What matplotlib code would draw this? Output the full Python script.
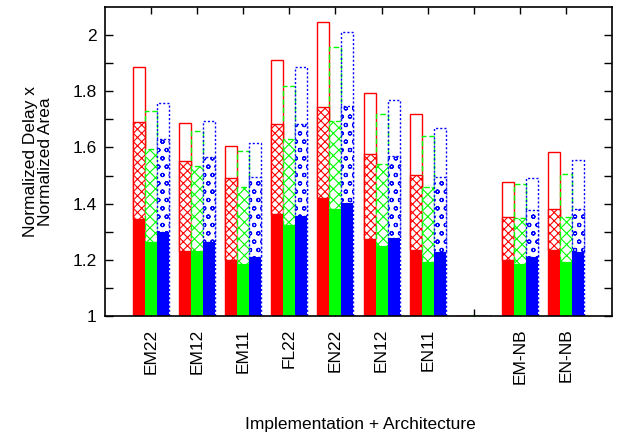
import matplotlib
matplotlib.use("Agg")
import matplotlib.pyplot as plt
import numpy as np

# Implementation + architecture groups (blank slot separates the NB variants)
groups = ["EM22", "EM12", "EM11", "FL22", "EN22", "EN12", "EN11", "", "EM-NB", "EN-NB"]

# Each bar is a stack: solid base, hatched middle, open top (cumulative levels)
red_base  = [1.346, 1.232, 1.199, 1.362, 1.421, 1.275, 1.234, 1.0, 1.199, 1.235]
red_mid   = [1.690, 1.552, 1.491, 1.682, 1.744, 1.575, 1.501, 1.0, 1.352, 1.381]
red_top   = [1.885, 1.686, 1.606, 1.911, 2.046, 1.793, 1.719, 1.0, 1.478, 1.585]

green_base = [1.262, 1.230, 1.186, 1.324, 1.382, 1.250, 1.192, 1.0, 1.185, 1.193]
green_mid  = [1.594, 1.534, 1.459, 1.630, 1.693, 1.541, 1.458, 1.0, 1.348, 1.351]
green_top  = [1.728, 1.660, 1.586, 1.819, 1.956, 1.718, 1.641, 1.0, 1.469, 1.505]

blue_base = [1.300, 1.263, 1.209, 1.357, 1.403, 1.276, 1.228, 1.0, 1.211, 1.229]
blue_mid  = [1.630, 1.565, 1.496, 1.683, 1.746, 1.570, 1.496, 1.0, 1.377, 1.381]
blue_top  = [1.760, 1.695, 1.617, 1.885, 2.010, 1.769, 1.668, 1.0, 1.492, 1.556]

plt.rcParams["font.family"] = ["Liberation Sans", "DejaVu Sans"]
plt.rcParams["font.size"] = 12.5
plt.rcParams["hatch.linewidth"] = 0.8

fig = plt.figure(figsize=(6.24, 4.34), dpi=100)
ax = fig.add_axes([105 / 624, 1 - 316 / 434, (612 - 105) / 624, (316 - 7) / 434])

x = np.arange(len(groups))
width = 0.26

series = [
    (red_base, red_mid, red_top, "#ff0000", "solid", "xxxx", -width),
    (green_base, green_mid, green_top, "#00ff00", (0, (4, 2)), "xxx", 0.0),
    (blue_base, blue_mid, blue_top, "#0000ff", (0, (1.5, 1.5)), "oo", width),
]

for base, mid, top, color, ls, hatch, off in series:
    base = np.asarray(base)
    mid = np.asarray(mid)
    top = np.asarray(top)
    pos = x + off
    # open top section (outline only)
    ax.bar(pos, top - 1.0, bottom=1.0, width=width, fill=False,
           edgecolor=color, linestyle=ls, linewidth=1.0, zorder=2)
    # hatched middle section
    ax.bar(pos, mid - base, bottom=base, width=width, facecolor="white",
           hatch=hatch, edgecolor=color, linestyle=ls, linewidth=1.0, zorder=3)
    # solid base section
    ax.bar(pos, base - 1.0, bottom=1.0, width=width, color=color,
           linewidth=0, zorder=4)

ax.set_xlim(-1.0, 10.0)
ax.set_ylim(1.0, 2.1)
ax.set_xticks(x)
ax.set_xticklabels(groups, rotation=90)
ax.set_yticks([1.0, 1.2, 1.4, 1.6, 1.8, 2.0])
ax.set_yticklabels(["1", "1.2", "1.4", "1.6", "1.8", "2"])
ax.set_yticks(np.arange(1.1, 2.1, 0.2), minor=True)
ax.tick_params(axis="both", which="both", direction="in", top=True, right=True)
ax.tick_params(axis="y", which="major", length=6, width=1, pad=6)
ax.tick_params(axis="y", which="minor", length=6, width=1)
ax.tick_params(axis="x", which="major", length=5, width=1, pad=9)
for s in ax.spines.values():
    s.set_linewidth(1.2)
    s.set_zorder(6)

ax.set_ylabel("Normalized Delay x\nNormalized Area", labelpad=14, linespacing=1.0)
fig.text(360 / 624, 1 - 424 / 434, "Implementation + Architecture",
         ha="center", va="center", fontsize=12.5)

fig.savefig("out.png", dpi=100)
